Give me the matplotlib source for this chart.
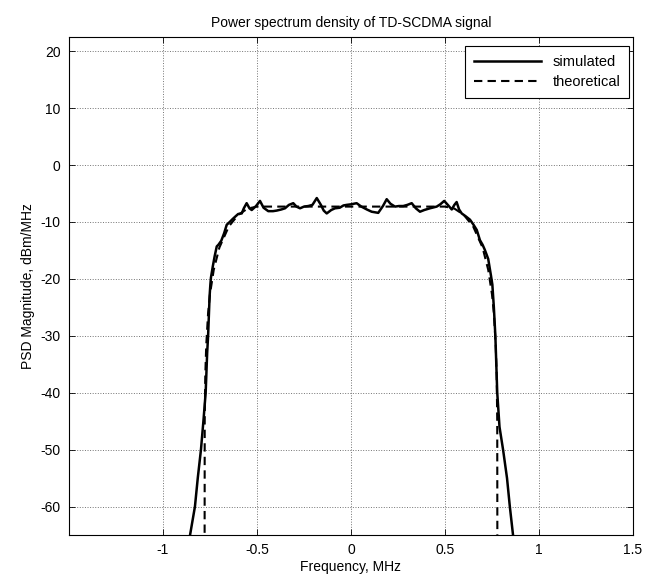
import matplotlib
matplotlib.use("Agg")
import matplotlib.pyplot as plt

plt.rcParams['font.family'] = ['Liberation Sans', 'DejaVu Sans']
plt.rcParams['axes.unicode_minus'] = False

# simulated PSD
sim_freq = [-0.875, -0.856, -0.83, -0.815, -0.798, -0.785, -0.773, -0.765, -0.76, -0.752,
            -0.748, -0.745, -0.735, -0.725, -0.714, -0.705, -0.69, -0.675, -0.661, -0.645,
            -0.63, -0.617, -0.60, -0.581, -0.57, -0.555, -0.54, -0.528, -0.505, -0.484,
            -0.465, -0.44, -0.415, -0.395, -0.37, -0.351, -0.33, -0.307, -0.29, -0.271,
            -0.25, -0.227, -0.205, -0.182, -0.16, -0.145, -0.129, -0.105, -0.085, -0.06,
            -0.04, -0.023, 0.0, 0.03, 0.055, 0.084, 0.11, 0.145, 0.17, 0.19,
            0.21, 0.234, 0.255, 0.278, 0.30, 0.323, 0.345, 0.367, 0.39, 0.42,
            0.456, 0.475, 0.496, 0.515, 0.536, 0.55, 0.562, 0.575, 0.589, 0.61,
            0.633, 0.65, 0.669, 0.686, 0.70, 0.712, 0.73, 0.745, 0.752, 0.76,
            0.768, 0.778, 0.79, 0.809, 0.83, 0.845, 0.862, 0.88]
sim_psd = [-68, -65, -60, -55, -50, -45, -40, -33, -30, -23,
           -21, -19.8, -17.8, -16.0, -14.3, -14.0, -13.3, -12.0, -10.5, -10.0,
           -9.5, -9.1, -8.6, -8.5, -7.6, -6.7, -7.6, -7.9, -7.2, -6.3,
           -7.5, -8.1, -8.1, -8.0, -7.8, -7.6, -7.0, -6.7, -7.3, -7.6,
           -7.3, -7.2, -7.0, -5.8, -7.0, -8.0, -8.5, -7.9, -7.6, -7.5,
           -7.1, -7.0, -6.9, -6.7, -7.3, -7.8, -8.2, -8.4, -7.2, -6.0,
           -6.8, -7.3, -7.2, -7.2, -7.0, -6.7, -7.6, -8.2, -7.9, -7.6,
           -7.3, -6.9, -6.3, -7.0, -7.8, -7.0, -6.5, -7.8, -8.5, -9.0,
           -9.6, -10.4, -11.4, -13.2, -14.0, -14.9, -16.5, -19.5, -21, -25,
           -30, -40, -46, -50, -55, -60, -65, -68]

# theoretical PSD
theo_freq = [-0.779, -0.778, -0.775, -0.77, -0.76, -0.75, -0.73, -0.70, -0.65, -0.60,
             -0.55, -0.50, 0.50, 0.55, 0.60, 0.65, 0.70, 0.73, 0.75, 0.76,
             0.77, 0.775, 0.778, 0.779]
theo_psd = [-80, -45, -36.9, -31.7, -26.0, -22.7, -18.4, -14.5, -10.8, -8.75,
            -7.65, -7.3, -7.3, -7.65, -8.75, -10.8, -14.5, -18.4, -22.7, -26.0,
            -31.7, -36.9, -45, -80]

xticks = [-1, -0.5, 0, 0.5, 1, 1.5]
xticklabels = ['-1', '-0.5', '0', '0.5', '1', '1.5']
yticks = [-60, -50, -40, -30, -20, -10, 0, 10, 20]

fig = plt.figure(figsize=(6.49, 5.86), dpi=100)
ax = fig.add_axes([0.1063, 0.087, 0.8690, 0.8499])

ax.plot(sim_freq, sim_psd, color='black', linewidth=1.8, label='simulated')
ax.plot(theo_freq, theo_psd, color='black', linewidth=1.5, linestyle=(0, (4, 2.5)),
        label='theoretical')

ax.set_xlim(-1.5, 1.5)
ax.set_ylim(-65, 22.5)
ax.set_xticks(xticks)
ax.set_xticklabels(xticklabels)
ax.set_yticks(yticks)
ax.tick_params(direction='in', length=4, top=True, right=True, labelsize=10,
               width=0.6, pad=6)
for sp in ax.spines.values():
    sp.set_linewidth(0.8)

ax.grid(True, linestyle=':', color='0.45', linewidth=0.7)

ax.set_title("Power spectrum density of TD-SCDMA signal", fontsize=10, pad=7)
ax.set_xlabel("Frequency, MHz", fontsize=10, labelpad=2)
ax.set_ylabel("PSD Magnitude, dBm/MHz", fontsize=10, labelpad=4)

leg = ax.legend(loc='upper right', bbox_to_anchor=(0.993, 0.982), fontsize=10.5,
                fancybox=False, edgecolor='black', framealpha=1, borderaxespad=0,
                handlelength=4.6, borderpad=0.6, labelspacing=0.45)
leg.get_frame().set_linewidth(0.8)

fig.savefig("out.png", dpi=100)
